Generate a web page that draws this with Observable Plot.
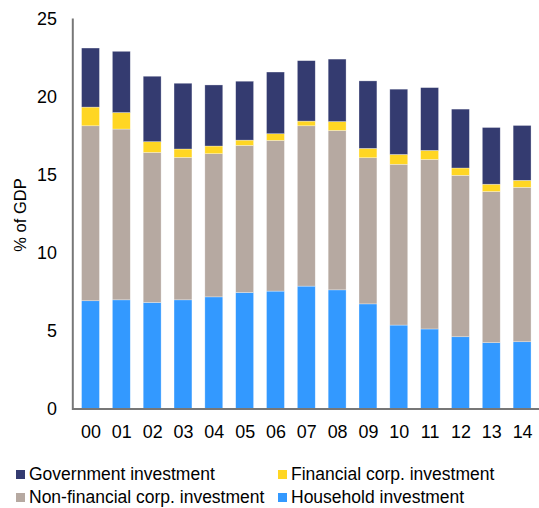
<!DOCTYPE html>
<html>
<head>
<meta charset="utf-8">
<script src="https://cdn.jsdelivr.net/npm/d3@7"></script>
<script src="https://cdn.jsdelivr.net/npm/@observablehq/plot@0.6"></script>
<style>
  html, body { margin: 0; padding: 0; background: #fff; overflow: hidden; }
  body { width: 539px; height: 508px; position: relative; font-family: "Liberation Sans", Arial, sans-serif; }
  #chart { position: absolute; left: 0; top: 0; }
  .ylabel { position: absolute; left: 19.5px; top: 214.5px; transform: translate(-50%, -50%) rotate(-90deg); font-size: 16.5px; color: #000; white-space: nowrap; line-height: 1; }
  .legend { position: absolute; font-size: 17.5px; color: #000; white-space: nowrap; }
  .legend .item { position: absolute; display: flex; align-items: center; }
  .legend .sw { width: 9px; height: 9px; margin-right: 4px; display: inline-block; }
</style>
</head>
<body>
<div id="chart"></div>
<div class="ylabel">% of GDP</div>
<div class="legend" id="legend"></div>
<script>
const years = ["00","01","02","03","04","05","06","07","08","09","10","11","12","13","14"];
const household   = [6.91, 6.97, 6.80, 6.97, 7.16, 7.44, 7.53, 7.85, 7.61, 6.71, 5.35, 5.10, 4.60, 4.22, 4.28];
const nonFinancial = [11.23, 10.96, 9.63, 9.14, 9.19, 9.44, 9.67, 10.29, 10.23, 9.38, 10.32, 10.88, 10.36, 9.70, 9.91];
const financial   = [1.20, 1.06, 0.69, 0.54, 0.49, 0.34, 0.43, 0.30, 0.57, 0.60, 0.63, 0.58, 0.47, 0.47, 0.45];
const government  = [3.79, 3.93, 4.20, 4.22, 3.92, 3.78, 3.96, 3.88, 4.01, 4.33, 4.19, 4.03, 3.78, 3.64, 3.52];

const seriesNames = ["Household investment", "Non-financial corp. investment", "Financial corp. investment", "Government investment"];
const seriesColors = ["#3399FF", "#B6A9A1", "#FFD623", "#343B70"];
const seriesValues = [household, nonFinancial, financial, government];
const yTicks = [0, 5, 10, 15, 20, 25];

const data = [];
seriesNames.forEach((s, i) => years.forEach((yr, j) => data.push({year: yr, series: s, value: seriesValues[i][j]})));

const chart = Plot.plot({
  width: 542,
  height: 451,
  marginLeft: 72.7,
  marginRight: 0,
  marginTop: 19,
  marginBottom: 40.3,
  style: {fontFamily: "'Liberation Sans', Arial, sans-serif", fontSize: "18px", color: "#000", background: "#fff"},
  x: {domain: years, paddingInner: 0.43, paddingOuter: 0.215, label: null},
  y: {domain: [0, 25], label: null},
  color: {domain: seriesNames, range: seriesColors},
  marks: [
    Plot.barY(data, {x: "year", y: "value", fill: "series", order: seriesNames, stroke: "#fff", strokeWidth: 0.6, strokeOpacity: 0.5}),
    Plot.axisY({ticks: yTicks, tickSize: 0, tickPadding: 16, fontSize: 18, label: null}),
    Plot.axisX({tickSize: 0, tickPadding: 16, fontSize: 18, label: null}),
    Plot.frame({anchor: "left", stroke: "#777", strokeWidth: 2}),
    Plot.ruleY([0], {stroke: "#777", strokeWidth: 2})
  ]
});
chart.style.overflow = "hidden";
document.getElementById("chart").appendChild(chart);

// legend
const legendItems = [
  {name: "Government investment", color: "#343B70", x: 16, y: 474},
  {name: "Financial corp. investment", color: "#FFD623", x: 278, y: 474},
  {name: "Non-financial corp. investment", color: "#B6A9A1", x: 16, y: 497.5},
  {name: "Household investment", color: "#3399FF", x: 278, y: 497.5}
];
const leg = document.getElementById("legend");
legendItems.forEach(it => {
  const d = document.createElement("div");
  d.className = "item";
  d.style.left = it.x + "px";
  d.style.top = (it.y - 11) + "px";
  d.style.height = "22px";
  const sw = document.createElement("span");
  sw.className = "sw";
  sw.style.background = it.color;
  d.appendChild(sw);
  const t = document.createElement("span");
  t.textContent = it.name;
  d.appendChild(t);
  leg.appendChild(d);
});
</script>
</body>
</html>
